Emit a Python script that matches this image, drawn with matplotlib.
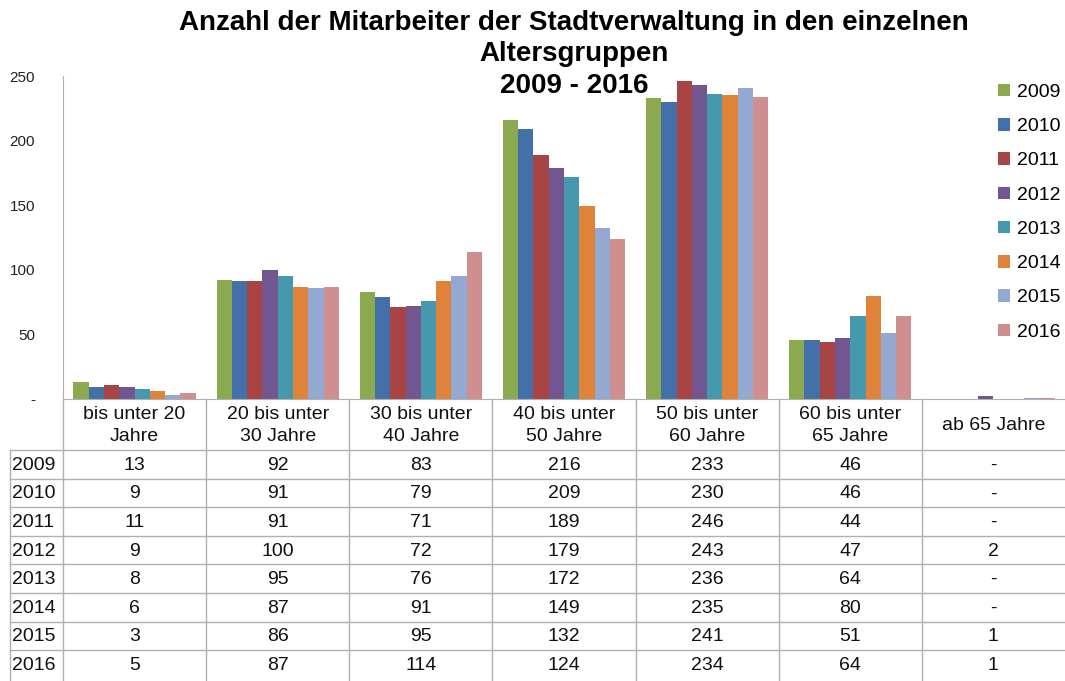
import matplotlib.pyplot as plt
import numpy as np
from matplotlib.patches import Patch

plt.rcParams['font.family'] = ['Liberation Sans', 'DejaVu Sans']

# data
groups = ["bis unter 20\nJahre", "20 bis unter\n30 Jahre", "30 bis unter\n40 Jahre",
          "40 bis unter\n50 Jahre", "50 bis unter\n60 Jahre", "60 bis unter\n65 Jahre",
          "ab 65 Jahre"]
years = ["2009", "2010", "2011", "2012", "2013", "2014", "2015", "2016"]
v2009 = [13, 92, 83, 216, 233, 46, 0]
v2010 = [9, 91, 79, 209, 230, 46, 0]
v2011 = [11, 91, 71, 189, 246, 44, 0]
v2012 = [9, 100, 72, 179, 243, 47, 2]
v2013 = [8, 95, 76, 172, 236, 64, 0]
v2014 = [6, 87, 91, 149, 235, 80, 0]
v2015 = [3, 86, 95, 132, 241, 51, 1]
v2016 = [5, 87, 114, 124, 234, 64, 1]
series = [v2009, v2010, v2011, v2012, v2013, v2014, v2015, v2016]
colors = ["#8BA94F", "#4370A8", "#A84443", "#72568F", "#4598AE", "#DE8339", "#94A9D1", "#D08F8F"]
yticks = [0, 50, 100, 150, 200, 250]
ytick_labels = ["-", "50", "100", "150", "200", "250"]

W, H = 1065, 681
fig = plt.figure(figsize=(W / 100, H / 100), dpi=100)

# pixel layout
x0, x1 = 63, 1065
y_top, y_base = 76, 399
ax = fig.add_axes([x0 / W, 1 - y_base / H, (x1 - x0) / W, (y_base - y_top) / H])

n = len(years)
bw = 0.1067
xs = np.arange(len(groups))
for i, (vals, c) in enumerate(zip(series, colors)):
    ax.bar(xs + (i - (n - 1) / 2) * bw, vals, bw, color=c, edgecolor="none", label=years[i])

ax.set_xlim(-0.5, len(groups) - 0.5)
ax.set_ylim(0, 250)
ax.set_xticks([])
ax.set_yticks(yticks)
ax.set_yticklabels(ytick_labels, fontsize=11, color="#222222")
ax.tick_params(axis="y", length=0, pad=20)
for s in ["top", "right"]:
    ax.spines[s].set_visible(False)
ax.spines["left"].set_color("#b0b0b0")
ax.spines["bottom"].set_color("#b0b0b0")

handles = [Patch(facecolor=c, edgecolor="none") for c in colors]
fig.legend(handles, years, loc="upper left", bbox_to_anchor=(990 / W, 1 - 76 / H),
           frameon=False, fontsize=14, handlelength=0.62, handleheight=0.62,
           handletextpad=0.35, labelspacing=0.88, borderaxespad=0)

fig.text(574 / W, 1 - 10 / H, "Anzahl der Mitarbeiter der Stadtverwaltung in den einzelnen\nAltersgruppen\n2009 - 2016",
         ha="center", va="top", fontsize=20, fontweight="bold", linespacing=1.27)

# data table below the chart
tb = fig.add_axes([0, 0, 1, 1])
tb.set_xlim(0, W)
tb.set_ylim(H, 0)
tb.axis("off")
tb.patch.set_visible(False)

cw = (x1 - x0) / len(groups)
hdr_bot = 450
rh = 28.6
lc = "#b0b0b0"
col_edges = [x0 + cw * k for k in range(len(groups) + 1)]
for k, xe in enumerate(col_edges[:-1]):
    tb.plot([xe, xe], [y_base, H], color=lc, lw=1)
tb.plot([10, 10], [hdr_bot, H], color=lc, lw=1)
for r in range(n):
    yy = hdr_bot + r * rh
    tb.plot([10, W], [yy, yy], color=lc, lw=1)

for k, g in enumerate(groups):
    tb.text(col_edges[k] + cw / 2, (y_base + hdr_bot) / 2 + 1, g, ha="center", va="center",
            fontsize=14, linespacing=1.4, color="#111111")

for r, (yr, vals) in enumerate(zip(years, series)):
    yc = hdr_bot + r * rh + rh / 2 + 1
    tb.text(12, yc, yr, ha="left", va="center", fontsize=14, color="#111111")
    for k, v in enumerate(vals):
        tb.text(col_edges[k] + cw / 2, yc, str(v) if v else "-", ha="center", va="center",
                fontsize=14, color="#111111")

fig.savefig("out.png", dpi=100)
